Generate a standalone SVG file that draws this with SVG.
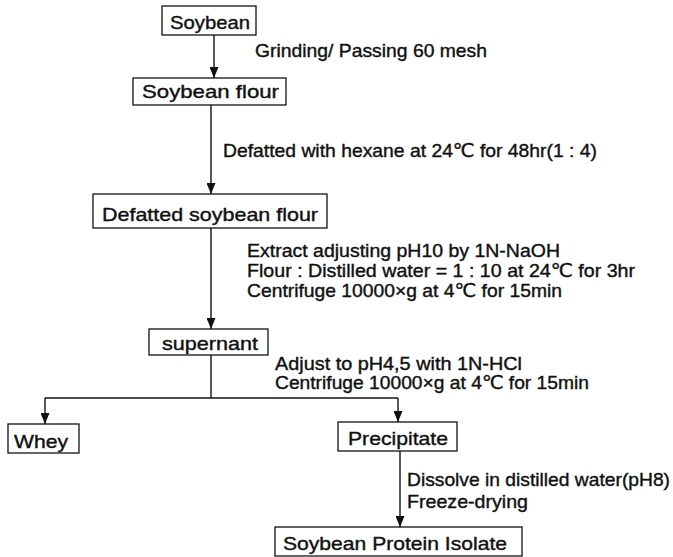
<svg xmlns="http://www.w3.org/2000/svg" width="673" height="557" viewBox="0 0 673 557">
  <defs>
    <marker id="arrow" viewBox="0 0 11 9" refX="11" refY="4.5" markerWidth="11" markerHeight="9" markerUnits="userSpaceOnUse" orient="auto">
      <path d="M0,0 L11,4.5 L0,9 z" fill="#111"/>
    </marker>
    <style>
      .box { fill: #fff; stroke: #111; stroke-width: 1.3; }
      .lbl, .note { font-family: "Liberation Sans", "DejaVu Sans", "Noto Sans CJK KR", sans-serif; font-size: 19px; fill: #111; stroke: #111; stroke-width: 0.4; }
      .conn { fill: none; stroke: #111; stroke-width: 1.4; }
    </style>
  </defs>
  <rect width="673" height="557" fill="#fff"/>

  <!-- connectors -->
  <g id="connectors">
    <line class="conn" x1="214" y1="35" x2="214" y2="78" marker-end="url(#arrow)"/>
    <line class="conn" x1="211" y1="105" x2="211" y2="194" marker-end="url(#arrow)"/>
    <line class="conn" x1="211" y1="228" x2="211" y2="329" marker-end="url(#arrow)"/>
    <polyline class="conn" points="211,355 211,398"/>
    <polyline class="conn" points="45,398 398,398"/>
    <line class="conn" x1="45" y1="398" x2="45" y2="424" marker-end="url(#arrow)"/>
    <line class="conn" x1="398" y1="398" x2="398" y2="422" marker-end="url(#arrow)"/>
    <line class="conn" x1="400" y1="451" x2="400" y2="527" marker-end="url(#arrow)"/>
  </g>

  <!-- step annotations -->
  <g id="notes">
    <text class="note" x="255" y="57" textLength="232" lengthAdjust="spacingAndGlyphs">Grinding/ Passing 60 mesh</text>
    <text class="note" x="223" y="157" textLength="374" lengthAdjust="spacingAndGlyphs">Defatted with hexane at 24℃ for 48hr(1 : 4)</text>
    <text class="note" x="247" y="257" textLength="313" lengthAdjust="spacingAndGlyphs">Extract adjusting pH10 by 1N-NaOH</text>
    <text class="note" x="247" y="277" textLength="388" lengthAdjust="spacingAndGlyphs">Flour : Distilled water = 1 : 10 at 24℃ for 3hr</text>
    <text class="note" x="247" y="297" textLength="315" lengthAdjust="spacingAndGlyphs">Centrifuge 10000×g at 4℃ for 15min</text>
    <text class="note" x="275" y="370" textLength="247" lengthAdjust="spacingAndGlyphs">Adjust to pH4,5 with 1N-HCl</text>
    <text class="note" x="275" y="389" textLength="314" lengthAdjust="spacingAndGlyphs">Centrifuge 10000×g at 4℃ for 15min</text>
    <text class="note" x="407" y="486" textLength="263" lengthAdjust="spacingAndGlyphs">Dissolve in distilled water(pH8)</text>
    <text class="note" x="407" y="508" textLength="121" lengthAdjust="spacingAndGlyphs">Freeze-drying</text>
  </g>

  <!-- nodes -->
  <g id="soybean">
    <rect class="box" x="162" y="6" width="94" height="29"/>
    <text class="lbl" x="170" y="29" textLength="80" lengthAdjust="spacingAndGlyphs">Soybean</text>
  </g>
  <g id="soybean-flour">
    <rect class="box" x="133" y="78" width="153" height="27"/>
    <text class="lbl" x="142" y="98" textLength="137" lengthAdjust="spacingAndGlyphs">Soybean flour</text>
  </g>
  <g id="defatted-flour">
    <rect class="box" x="93" y="194" width="234" height="34"/>
    <text class="lbl" x="102" y="221" textLength="216" lengthAdjust="spacingAndGlyphs">Defatted soybean flour</text>
  </g>
  <g id="supernant">
    <rect class="box" x="149" y="329" width="119" height="26"/>
    <text class="lbl" x="162" y="350" textLength="96" lengthAdjust="spacingAndGlyphs">supernant</text>
  </g>
  <g id="whey">
    <rect class="box" x="8" y="424" width="71" height="29"/>
    <text class="lbl" x="14" y="448" textLength="54" lengthAdjust="spacingAndGlyphs">Whey</text>
  </g>
  <g id="precipitate">
    <rect class="box" x="338" y="422" width="119" height="29"/>
    <text class="lbl" x="348" y="445" textLength="100" lengthAdjust="spacingAndGlyphs">Precipitate</text>
  </g>
  <g id="protein-isolate">
    <rect class="box" x="275" y="527" width="247" height="29"/>
    <text class="lbl" x="283" y="550" textLength="224" lengthAdjust="spacingAndGlyphs">Soybean Protein Isolate</text>
  </g>
</svg>
